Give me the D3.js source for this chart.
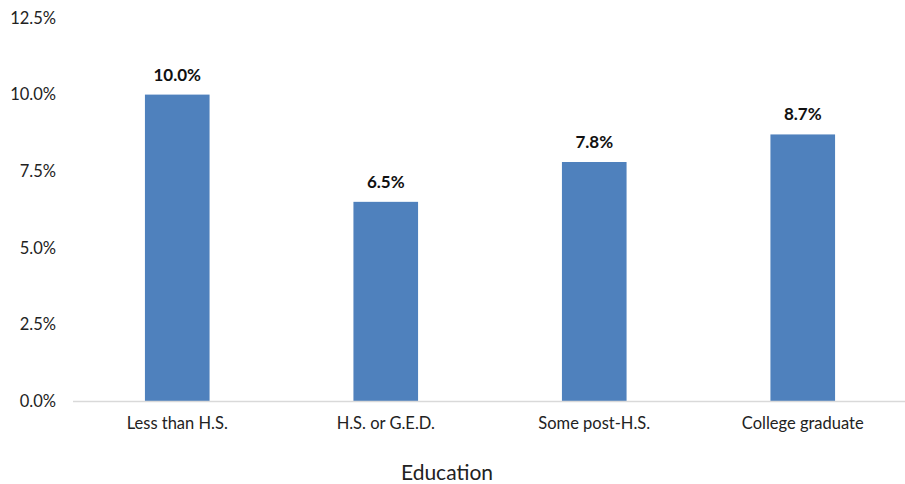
<!DOCTYPE html>
<html>
<head>
<meta charset="utf-8">
<script src="https://cdn.jsdelivr.net/npm/d3@7"></script>
<style>
  html, body { margin: 0; padding: 0; background: #fff; }
  svg { display: block; font-family: Lato, "Open Sans", sans-serif; }
</style>
</head>
<body>
<svg id="chart" width="905" height="484"></svg>
<script>
// Share by education level (percent)
const categories = ["Less than H.S.", "H.S. or G.E.D.", "Some post-H.S.", "College graduate"];
const values = [10.0, 6.5, 7.8, 8.7];
const yTicks = [0, 2.5, 5.0, 7.5, 10.0, 12.5];
const xTitle = "Education";

(function drawChart() {
  const svg = d3.select("#chart");
  const plotLeft = 73, plotRight = 907, plotTop = 18, plotBottom = 401;

  const x = d3.scaleBand()
    .domain(categories)
    .range([plotLeft, plotRight])
    .paddingInner(0.69)
    .paddingOuter(0.345);

  const y = d3.scaleLinear()
    .domain([0, 12.5])
    .range([plotBottom, plotTop]);

  // y-axis tick labels (no line, no ticks)
  const yAxis = svg.append("g")
    .attr("transform", `translate(${plotLeft},0)`)
    .call(d3.axisLeft(y).tickValues(yTicks).tickSize(0).tickPadding(17)
      .tickFormat(d => d.toFixed(1) + "%"));
  yAxis.select(".domain").remove();
  yAxis.selectAll("text")
    .attr("font-size", 16.5)
    .attr("fill", "#222")
    .attr("font-family", "Lato, sans-serif");

  // bars
  svg.append("g").selectAll("rect")
    .data(values)
    .join("rect")
    .attr("x", (d, i) => x(categories[i]))
    .attr("y", d => y(d))
    .attr("width", x.bandwidth())
    .attr("height", d => y(0) - y(d))
    .attr("fill", "#4f81bd");

  // value labels
  svg.append("g").selectAll("text")
    .data(values)
    .join("text")
    .attr("x", (d, i) => x(categories[i]) + x.bandwidth() / 2)
    .attr("y", d => y(d) - 14)
    .attr("text-anchor", "middle")
    .attr("font-size", 17)
    .attr("font-weight", "bold")
    .attr("fill", "#111")
    .text(d => d.toFixed(1) + "%");

  // x-axis baseline and category labels
  const xAxis = svg.append("g")
    .attr("transform", `translate(0,${plotBottom})`)
    .call(d3.axisBottom(x).tickSize(0).tickPadding(16));
  xAxis.select(".domain")
    .attr("d", `M${plotLeft},0.5H905`)
    .attr("stroke", "#d9d9d9")
    .attr("stroke-width", 1.5);
  xAxis.selectAll("text")
    .attr("font-size", 16.5)
    .attr("fill", "#222")
    .attr("font-family", "Lato, sans-serif");

  // axis title
  svg.append("text")
    .attr("x", 447)
    .attr("y", 480)
    .attr("text-anchor", "middle")
    .attr("font-size", 21)
    .attr("fill", "#222")
    .text(xTitle);
})();
</script>
</body>
</html>
